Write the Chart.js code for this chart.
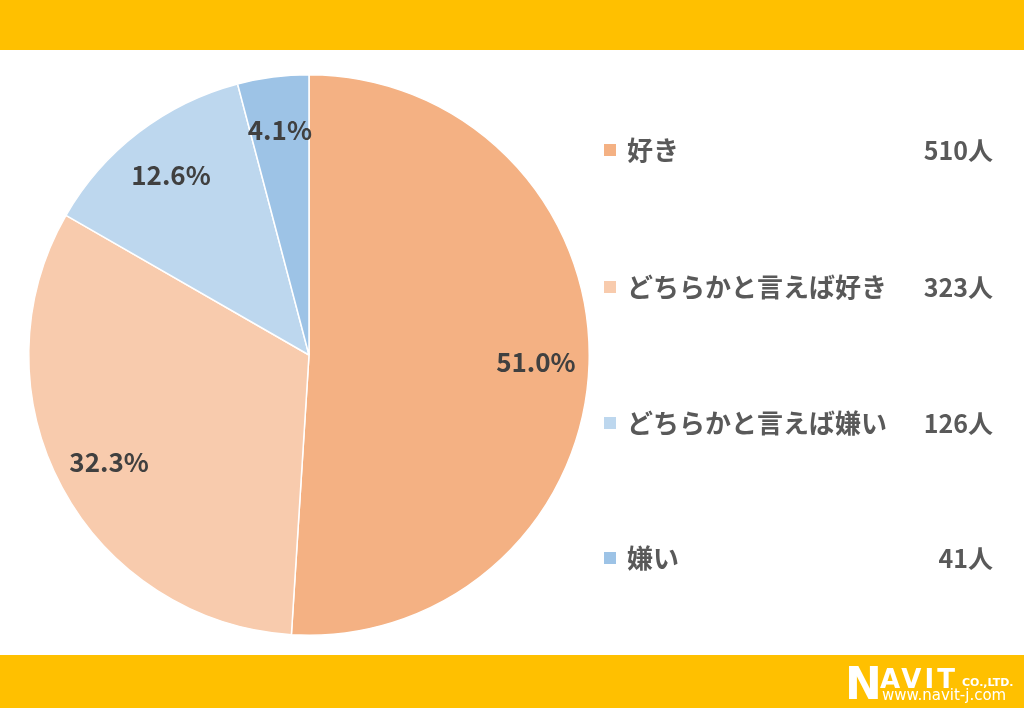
<!DOCTYPE html>
<html>
<head>
<meta charset="utf-8">
<script src="https://cdn.jsdelivr.net/npm/chart.js@4/dist/chart.umd.min.js"></script>
<style>
  html, body { margin: 0; padding: 0; background: #fff; }
  #wrap { width: 1024px; height: 708px; position: relative; }
</style>
</head>
<body>
<div id="wrap"><canvas id="myChart" width="1024" height="708"></canvas></div>
<script>
// data
const labels = ['好き', 'どちらかと言えば好き', 'どちらかと言えば嫌い', '嫌い']
const counts = [510, 323, 126, 41]
const percents = ['51.0%', '32.3%', '12.6%', '4.1%']
const colors = ['#F4B183', '#F8CBAD', '#BDD7EE', '#9DC3E6']

const jpFont = '"Noto Sans CJK JP", "Noto Sans", sans-serif'

// yellow bars + logo
const frame = {
  id: 'frame',
  beforeDraw(chart) {
    const ctx = chart.ctx
    ctx.save()
    ctx.fillStyle = '#fff'
    ctx.fillRect(0, 0, chart.width, chart.height)
    ctx.fillStyle = '#FFC000'
    ctx.fillRect(0, 0, chart.width, 50)
    ctx.fillRect(0, 655, chart.width, chart.height - 655)

    ctx.fillStyle = '#fff'
    ctx.textBaseline = 'alphabetic'
    ctx.font = 'bold 44px "DejaVu Sans", sans-serif'
    ctx.fillText('N', 845, 699)
    ctx.font = 'bold 26px "DejaVu Sans", sans-serif'
    ctx.letterSpacing = '3px'
    ctx.fillText('AVIT', 880, 688)
    ctx.letterSpacing = '0px'
    ctx.font = 'bold 11px "DejaVu Sans", sans-serif'
    ctx.fillText('CO.,LTD.', 962, 686)
    ctx.font = '15px "DejaVu Sans", sans-serif'
    ctx.fillText('www.navit-j.com', 882, 700)
    ctx.restore()
  }
}

// percentage labels on slices + right side legend
const extras = {
  id: 'extras',
  afterDatasetsDraw(chart) {
    const ctx = chart.ctx
    const meta = chart.getDatasetMeta(0)
    ctx.save()
    ctx.font = 'bold 26px ' + jpFont
    ctx.fillStyle = '#404040'
    ctx.textAlign = 'center'
    ctx.textBaseline = 'middle'
    meta.data.forEach((arc, i) => {
      const mid = (arc.startAngle + arc.endAngle) / 2
      const r = arc.outerRadius * 0.81
      ctx.fillText(percents[i], arc.x + Math.cos(mid) * r, arc.y + Math.sin(mid) * r)
    })

    const rows = [150, 287, 423, 558]
    labels.forEach((lab, i) => {
      const y = rows[i]
      ctx.fillStyle = colors[i]
      ctx.fillRect(604, y - 6, 12, 12)
      ctx.fillStyle = '#595959'
      ctx.textAlign = 'left'
      ctx.font = 'bold 26px ' + jpFont
      ctx.fillText(lab, 627, y)
      ctx.textAlign = 'right'
      ctx.font = 'bold 25px ' + jpFont
      ctx.fillText(counts[i] + '人', 993, y)
    })
    ctx.restore()
  }
}

const data = {
  labels: labels,
  datasets: [{
    data: counts,
    backgroundColor: colors,
    borderColor: '#ffffff',
    borderWidth: 1.5
  }]
}

const config = {
  type: 'pie',
  data: data,
  options: {
    responsive: false,
    animation: false,
    layout: { padding: { top: 74, bottom: 72, left: 28, right: 434 } },
    plugins: {
      legend: { display: false },
      tooltip: { enabled: false }
    }
  },
  plugins: [frame, extras]
}

const myChart = new Chart(document.getElementById('myChart'), config)
</script>
</body>
</html>
